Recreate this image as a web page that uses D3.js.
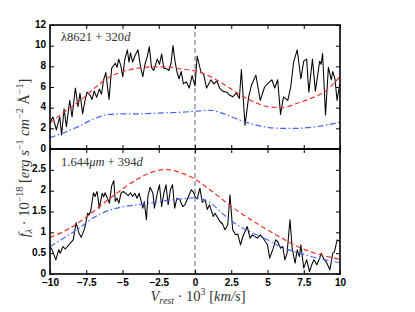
<!DOCTYPE html>
<html>
<head>
<meta charset="utf-8">
<script src="https://cdn.jsdelivr.net/npm/d3@7"></script>
<style>
  body { margin: 0; background: #fff; }
  svg text { fill: #000; }
</style>
</head>
<body>
<div id="chart"></div>
<script>
// observed spectra (velocity in 10^3 km/s, flux in 10^-18 units)
var topVel = [-10, -9.8, -9.56, -9.33, -9.2, -9.03, -8.87, -8.64, -8.48, -8.25, -8.07, -7.93, -7.75, -7.6, -7.45, -7.24, -7.1, -6.95, -6.78, -6.6, -6.45, -6.3, -6.15, -6.05, -5.93, -5.75, -5.5, -5.38, -5.26, -5.12, -4.98, -4.85, -4.67, -4.55, -4.45, -4.3, -4.15, -3.93, -3.75, -3.6, -3.45, -3.3, -3.15, -3.0, -2.85, -2.6, -2.45, -2.3, -2.15, -2.0, -1.8, -1.65, -1.52, -1.38, -1.25, -1.1, -0.95, -0.8, -0.6, -0.4, -0.2, 0, 0.15, 0.4, 0.6, 0.8, 1.1, 1.3, 1.5, 1.7, 1.9, 2.2, 2.4, 2.6, 2.85, 3.06, 3.2, 3.45, 3.7, 3.9, 4.2, 4.5, 4.8, 5.0, 5.3, 5.5, 5.7, 5.9, 6.1, 6.4, 6.6, 6.8, 7.05, 7.3, 7.5, 7.7, 7.85, 8.1, 8.3, 8.6, 8.7, 8.8, 9.0, 9.2, 9.4, 9.5, 9.65, 9.8, 9.9, 10];
var topFlux = [2.6, 3.1, 1.84, 3.1, 1.35, 3.9, 2.15, 4.7, 3.1, 5.9, 4.1, 5.4, 3.4, 4.6, 5.5, 5.2, 4.8, 5.6, 5.0, 5.8, 5.3, 6.7, 7.4, 6.2, 4.8, 7.8, 8.3, 7.9, 8.7, 8.1, 7.0, 8.6, 9.6, 8.4, 9.3, 8.4, 9.0, 9.6, 7.9, 7.0, 8.2, 8.9, 9.9, 7.9, 7.6, 8.7, 8.2, 9.2, 7.8, 7.8, 7.6, 8.3, 10.0, 8.5, 7.5, 6.8, 7.5, 6.3, 6.5, 5.9, 7.1, 6.1, 9.0, 7.5, 7.2, 5.9, 6.7, 6.3, 6.6, 5.9, 5.6, 5.5, 5.2, 5.05, 5.4, 4.9, 7.7, 2.3, 5.05, 6.2, 7.15, 4.7, 6.0, 6.3, 6.7, 5.9, 6.7, 3.35, 5.05, 4.7, 6.0, 8.4, 9.6, 6.8, 8.5, 8.7, 5.5, 8.7, 5.6, 8.5, 8.2, 9.25, 3.3, 7.9, 6.7, 7.5, 6.8, 4.7, 5.6, 6.3];

var botVel = [-10, -9.85, -9.6, -9.4, -9.3, -9.1, -8.95, -8.8, -8.6, -8.4, -8.2, -8.0, -7.85, -7.6, -7.4, -7.3, -7.2, -7.0, -6.9, -6.75, -6.6, -6.4, -6.3, -6.2, -5.9, -5.75, -5.6, -5.5, -5.38, -5.25, -5.1, -4.95, -4.8, -4.6, -4.45, -4.3, -4.15, -4.0, -3.85, -3.6, -3.5, -3.35, -3.25, -3.1, -2.9, -2.8, -2.6, -2.45, -2.3, -2.15, -2.0, -1.85, -1.7, -1.55, -1.4, -1.25, -1.05, -0.85, -0.7, -0.55, -0.4, -0.25, -0.1, 0, 0.15, 0.34, 0.5, 0.7, 0.85, 1.0, 1.26, 1.38, 1.72, 1.9, 2.07, 2.26, 2.41, 2.6, 2.8, 2.95, 3.14, 3.3, 3.6, 3.8, 3.95, 4.3, 4.5, 4.7, 5.0, 5.15, 5.4, 5.55, 5.7, 5.9, 6.05, 6.2, 6.35, 6.55, 6.7, 6.9, 7.05, 7.2, 7.3, 7.5, 7.7, 7.9, 8.05, 8.2, 8.4, 8.6, 8.7, 8.9, 9.1, 9.3, 9.5, 9.6, 9.7, 9.8, 10];
var botFlux = [0.66, 0.58, 0.34, 0.58, 0.5, 0.66, 0.6, 0.66, 0.74, 0.82, 1.23, 0.98, 0.88, 1.1, 1.46, 1.42, 1.5, 1.95, 1.86, 1.98, 1.58, 1.94, 1.85, 1.95, 1.7, 2.11, 2.24, 1.74, 1.82, 1.7, 1.94, 1.98, 1.94, 1.88, 1.95, 1.86, 1.94, 1.82, 1.94, 1.58, 1.74, 1.3, 1.86, 2.08, 1.94, 1.58, 1.94, 2.14, 1.62, 1.94, 2.14, 1.66, 2.02, 2.14, 1.58, 1.82, 1.78, 1.62, 1.66, 1.78, 1.9, 2.02, 1.96, 1.86, 1.8, 2.06, 1.72, 1.78, 1.55, 1.66, 1.38, 1.46, 1.26, 1.2, 1.06, 1.18, 1.9, 1.06, 0.94, 0.96, 0.7, 0.9, 1.14, 0.86, 0.94, 0.86, 0.94, 0.86, 0.7, 0.38, 0.62, 0.82, 0.78, 0.62, 0.66, 0.34, 0.5, 1.3, 0.62, 0.26, 0.58, 0.42, 0.7, 0.14, 0.34, 0.06, 0.22, 0.34, 0.22, 0.38, 0.5, 0.35, 0.26, 0.1, 0.5, 0.52, 0.66, 0.82, 0.78];

// model curves
var modelVel = [-10, -9, -8, -7, -6, -5, -4, -3, -2, -1, 0, 1, 2, 3, 4, 5, 6, 7, 8, 9, 10];
var topRed  = [2.5, 3.6, 4.6, 5.8, 6.9, 7.5, 7.8, 7.95, 7.95, 7.75, 7.55, 7.05, 6.25, 5.35, 4.6, 4.1, 4.0, 4.4, 4.9, 5.6, 7.0];
var topBlue = [1.1, 1.6, 2.2, 2.9, 3.35, 3.4, 3.4, 3.45, 3.5, 3.55, 3.65, 3.75, 3.4, 2.85, 2.4, 2.1, 2.0, 2.0, 2.1, 2.3, 2.6];
var botRed  = [0.88, 1.03, 1.24, 1.5, 1.78, 2.04, 2.27, 2.44, 2.51, 2.43, 2.28, 2.03, 1.76, 1.5, 1.27, 1.06, 0.86, 0.67, 0.53, 0.43, 0.35];
var botBlue = [0.66, 0.87, 1.1, 1.35, 1.52, 1.61, 1.66, 1.71, 1.76, 1.8, 1.83, 1.72, 1.42, 1.16, 0.98, 0.82, 0.64, 0.52, 0.42, 0.34, 0.27];

var xTicks = [-10, -7.5, -5, -2.5, 0, 2.5, 5, 7.5, 10];
var topTicks = [0, 2, 4, 6, 8, 10, 12];
var botTicks = [0, 0.5, 1, 1.5, 2, 2.5];

var width = 415, height = 312;
var left = 50, right = 340;

var svg = d3.select("#chart").append("svg")
    .attr("width", width)
    .attr("height", height);

var x = d3.scaleLinear().domain([-10, 10]).range([left, right]);
var yTop = d3.scaleLinear().domain([0, 12]).range([149, 25]);
var yBot = d3.scaleLinear().domain([0, 3]).range([274, 149]);

var tickFont = "bold 10px 'Liberation Sans', Arial, sans-serif";

function panel(y, ticks, showX, obsV, obsF, red, blue) {
    var g = svg.append("g");
    var y0 = y.range()[0], y1 = y.range()[1];

    // zero-velocity marker
    g.append("line")
        .attr("x1", x(0)).attr("x2", x(0))
        .attr("y1", y0).attr("y2", y1)
        .style("stroke", "#777")
        .style("stroke-width", 1.1)
        .style("stroke-dasharray", "5,3");

    var obs = obsV.map(function(v, i) { return [v, obsF[i]]; });
    var line = d3.line()
        .x(function(d) { return x(d[0]); })
        .y(function(d) { return y(d[1]); });
    var smooth = d3.line()
        .curve(d3.curveMonotoneX)
        .x(function(d) { return x(d[0]); })
        .y(function(d) { return y(d[1]); });

    g.append("path")
        .datum(obs)
        .attr("d", line)
        .style("fill", "none")
        .style("stroke", "#000")
        .style("stroke-width", 1.05)
        .style("stroke-linejoin", "round");

    g.append("path")
        .datum(modelVel.map(function(v, i) { return [v, red[i]]; }))
        .attr("d", smooth)
        .style("fill", "none")
        .style("stroke", "#f03030")
        .style("stroke-width", 1.2)
        .style("stroke-dasharray", "5,3");

    g.append("path")
        .datum(modelVel.map(function(v, i) { return [v, blue[i]]; }))
        .attr("d", smooth)
        .style("fill", "none")
        .style("stroke", "#4466ff")
        .style("stroke-width", 1.2)
        .style("stroke-dasharray", "6,2.5,1.5,2.5");

    // axes with inward ticks
    var ax = g.append("g").attr("transform", "translate(" + left + ",0)")
        .call(d3.axisLeft(y).tickValues(ticks).tickSize(-4).tickPadding(4).tickFormat(d3.format("")));
    var axR = g.append("g").attr("transform", "translate(" + right + ",0)")
        .call(d3.axisRight(y).tickValues(ticks).tickSize(-4).tickFormat(""));
    var axT = g.append("g").attr("transform", "translate(0," + y1 + ")")
        .call(d3.axisTop(x).tickValues(xTicks).tickSize(-4).tickFormat(""));
    var axB = g.append("g").attr("transform", "translate(0," + y0 + ")")
        .call(d3.axisBottom(x).tickValues(xTicks).tickSize(-4).tickPadding(5)
            .tickFormat(showX ? d3.format("") : ""));

    [ax, axR, axT, axB].forEach(function(a) {
        a.select(".domain").remove();
        a.selectAll(".tick line").style("stroke", "#000").style("stroke-width", 1);
        a.selectAll("text").style("font", tickFont).style("fill", "#000");
    });
    ax.selectAll("text").attr("dy", "0.2em");

    g.append("rect")
        .attr("x", left).attr("y", y1)
        .attr("width", right - left).attr("height", y0 - y1)
        .style("fill", "none")
        .style("stroke", "#000")
        .style("stroke-width", 1.6);
    return g;
}

panel(yTop, topTicks, false, topVel, topFlux, topRed, topBlue);
panel(yBot, botTicks, true, botVel, botFlux, botRed, botBlue);

var serif = "'Liberation Serif', 'DejaVu Serif', serif";

// panel annotations
var t1 = svg.append("text").attr("x", 61).attr("y", 41)
    .style("font-family", serif).style("font-size", "12.5px").style("fill", "#333");
t1.append("tspan").text("λ8621  + 320");
t1.append("tspan").style("font-style", "italic").text("d");

var t2 = svg.append("text").attr("x", 61).attr("y", 166)
    .style("font-family", serif).style("font-size", "12.5px").style("fill", "#333");
t2.append("tspan").text("1.644");
t2.append("tspan").style("font-style", "italic").text("μm");
t2.append("tspan").text("  + 394");
t2.append("tspan").style("font-style", "italic").text("d");

// x label
var xl = svg.append("text").attr("x", 198).attr("y", 301)
    .attr("text-anchor", "middle")
    .style("font-family", serif).style("font-size", "14.5px").style("fill", "#333");
xl.append("tspan").style("font-style", "italic").text("V");
xl.append("tspan").style("font-style", "italic").style("font-size", "10px").attr("dy", 3).text("rest");
xl.append("tspan").attr("dy", -3).text(" · 10");
xl.append("tspan").style("font-size", "10px").attr("dy", -6).text("3");
xl.append("tspan").attr("dy", 6).text(" [");
xl.append("tspan").style("font-style", "italic").text("km/s");
xl.append("tspan").text("]");

// y label
var yl = svg.append("text")
    .attr("transform", "translate(29,158) rotate(-90)")
    .attr("text-anchor", "middle")
    .style("font-family", serif).style("font-size", "14.5px").style("fill", "#333");
yl.append("tspan").style("font-style", "italic").text("f");
yl.append("tspan").style("font-style", "italic").style("font-size", "10px").attr("dy", 3).text("λ");
yl.append("tspan").attr("dy", -3).text(" · 10");
yl.append("tspan").style("font-size", "10px").attr("dy", -6).text("−18");
yl.append("tspan").attr("dy", 6).text(" [");
yl.append("tspan").style("font-style", "italic").text("erg s");
yl.append("tspan").style("font-size", "10px").attr("dy", -6).text("−1");
yl.append("tspan").style("font-style", "italic").attr("dy", 6).text(" cm");
yl.append("tspan").style("font-size", "10px").attr("dy", -6).text("−2");
yl.append("tspan").attr("dy", 6).text(" Å");
yl.append("tspan").style("font-size", "10px").attr("dy", -6).text("−1");
yl.append("tspan").attr("dy", 6).text("]");
</script>
</body>
</html>
